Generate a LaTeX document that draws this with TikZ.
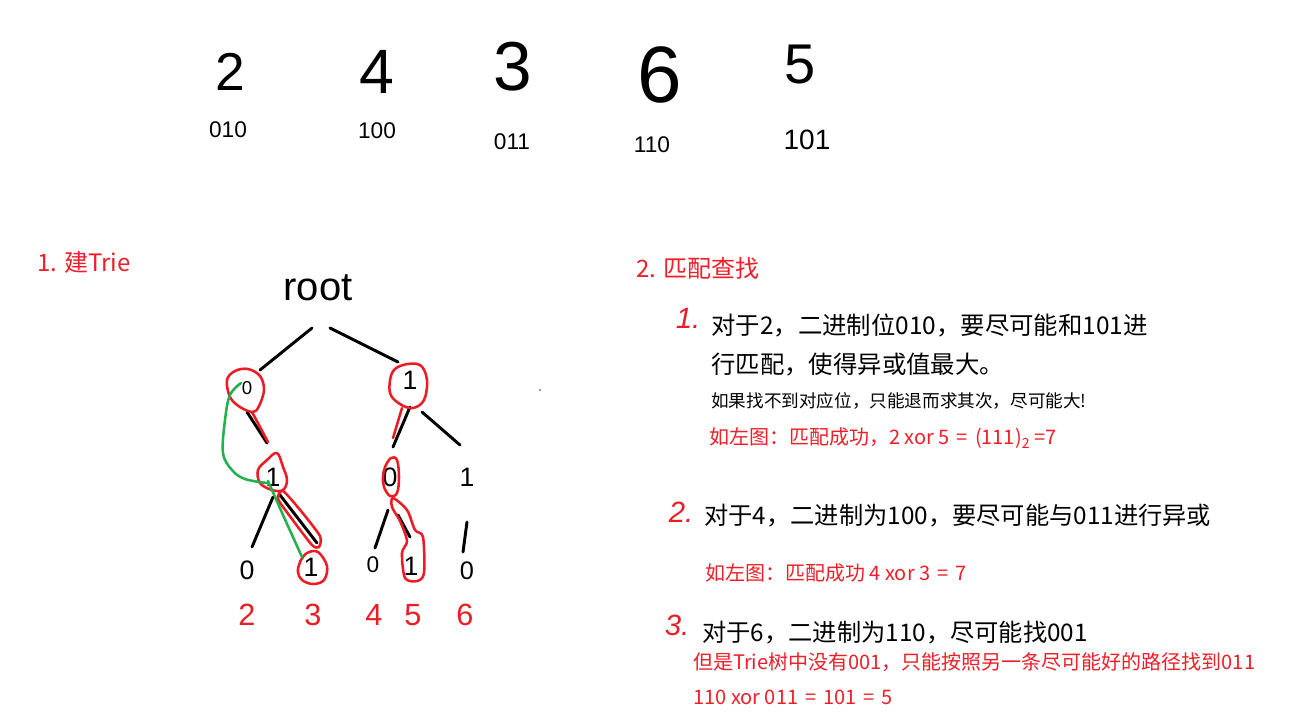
\documentclass[tikz,border=0pt]{standalone}
\usepackage{fontspec}
\setmainfont{Noto Sans CJK SC}
\newfontfamily\hand{Liberation Sans}
\definecolor{pred}{RGB}{237,28,36}
\definecolor{tred}{RGB}{240,30,40}
\definecolor{pgreen}{RGB}{34,177,76}
\newcommand{\wq}{\hspace{0.35em}=\hspace{0.35em}}
\begin{document}
\begin{tikzpicture}[x=0.75pt,y=-0.75pt,
  hw/.style={font=\hand\fontsize{#1}{#1}\selectfont, inner sep=0pt},
  hwr/.style={hw=#1, text=pred},
  cjk/.style={font=\fontsize{#1}{#1}\selectfont, inner sep=0pt, anchor=west},
  cjkr/.style={cjk=#1, text=tred},
  tedge/.style={line width=2.2pt, line cap=round},
  rloop/.style={draw=pred, line width=1.9pt, line cap=round, line join=round},
  gpath/.style={draw=pgreen, line width=1.9pt, line cap=round, line join=round}]
\useasboundingbox (0,0) rectangle (1301,715);
\fill[white] (0,0) rectangle (1301,715);

% top numbers
\node[hw=40] (t2) at (230,72) {2};
\node[hw=47] (t4) at (377,72) {4};
\node[hw=52] (t3) at (513,67) {3};
\node[hw=60] (t6) at (660,75) {6};
\node[hw=42] (t5) at (800,65) {5};
\node[hw=17] (b2) at (228,130) {010};
\node[hw=17] (b4) at (377,131) {100};
\node[hw=17] (b3) at (512,142) {011};
\node[hw=17] (b6) at (652,145) {110};
\node[hw=21] (b5) at (807,140) {101};

% titles
\node[cjkr=18] (title1) at (37,262) {1. 建Trie};
\node[cjkr=18] (title2) at (636,268) {2. 匹配查找};

% tree
\node[hw=30] (root) at (318,288) {root};
\node[hw=14] (l1a) at (247,388) {0};
\node[hw=20] (l1b) at (410,380) {1};
\node[hw=20] (l2a) at (273,477) {1};
\node[hw=20] (l2b) at (390,477) {0};
\node[hw=20] (l2c) at (467,477) {1};
\node[hw=20] (l3a) at (247,570) {0};
\node[hw=20] (l3b) at (311,567) {1};
\node[hw=17] (l3c) at (373,565) {0};
\node[hw=20] (l3d) at (411,566) {1};
\node[hw=19] (l3e) at (467,571) {0};

\node[hwr=23] (v2) at (247,615) {2};
\node[hwr=23] (v3) at (313,615) {3};
\node[hwr=23] (v4) at (374,615) {4};
\node[hwr=23] (v5) at (413,615) {5};
\node[hwr=23] (v6) at (465,615) {6};

% edge end points
\coordinate (e1a) at (312,328); \coordinate (e1b) at (260,370);
\coordinate (e2a) at (330,328); \coordinate (e2b) at (398,362);
\coordinate (e3a) at (247,412); \coordinate (e3b) at (267,443);
\coordinate (e4a) at (410,407); \coordinate (e4b) at (393,447);
\coordinate (e5a) at (422,412); \coordinate (e5b) at (460,445);
\coordinate (e6a) at (273,497); \coordinate (e6b) at (252,547);
\coordinate (e7a) at (280,495); \coordinate (e7b) at (317,543);
\coordinate (e8a) at (388,510); \coordinate (e8b) at (375,548);
\coordinate (e9a) at (398,515); \coordinate (e9b) at (410,537);
\coordinate (e10a) at (467,522); \coordinate (e10b) at (463,552);
\foreach \e in {1,...,10} {\draw[tedge] (e\e a) -- (e\e b);}

% red highlights
\draw[rloop] plot[smooth cycle, tension=0.6] coordinates {(227,380) (235,371) (248,369) (260,376) (264,390) (259,406) (253,412) (240,407) (230,397)};
\draw[rloop] (252,412) -- (268,442);
\draw[rloop] plot[smooth cycle, tension=0.6] coordinates {(392,373) (403,365) (420,365) (427,380) (424,400) (413,408) (400,404) (390,393)};
\draw[rloop] (402,408) -- (393,438);
\draw[rloop] plot[smooth cycle, tension=0.6] coordinates {(258,470) (267,460) (277,453) (283,467) (287,480) (283,490) (272,490) (260,483)};
\draw[rloop] plot[smooth cycle, tension=0.4] coordinates {(283,491) (301,511) (320,536) (319,547) (312,545) (292,519) (278,499)};
\draw[rloop] plot[smooth cycle, tension=0.6] coordinates {(300,562) (307,553) (318,552) (327,566) (324,580) (313,584) (302,580) (298,572)};
\draw[rloop] plot[smooth cycle, tension=0.6] coordinates {(385,467) (391,458) (397,460) (399,477) (397,493) (390,496) (384,487) (383,477)};
\draw[rloop] plot[smooth cycle, tension=0.5] coordinates {(393,498) (407,510) (415,530) (423,537) (424,573) (417,581) (405,578) (402,553) (407,541) (400,521) (392,507)};

% green path
\draw[gpath] plot[smooth, tension=0.6] coordinates {(241,383) (230,395) (225,420) (223,453) (232,470) (245,479) (267,483)};
\draw[gpath] (268,481) -- (283,515) -- (302,557);

% tiny dot
\fill[teal!70!black] (540,390) circle (0.9);

% right texts
\node[hwr=22, font=\hand\itshape\fontsize{22}{22}\selectfont] (m1) at (688,318) {1.};
\node[cjk=18.3] (s1a) at (711,325) {对于2，二进制位010，要尽可能和101进};
\node[cjk=18.3] (s1b) at (711,365) {行匹配，使得异或值最大。};
\node[cjk=13.2] (s1c) at (711,401) {如果找不到对应位，只能退而求其次，尽可能大!};
\node[cjkr=15] (s1d) at (709,438) {如左图：匹配成功，2 xor 5\wq(111)\textsubscript{2} =7};

\node[hwr=22, font=\hand\itshape\fontsize{22}{22}\selectfont] (m2) at (681,512) {2.};
\node[cjk=18.2] (s2a) at (704,516) {对于4，二进制为100，要尽可能与011进行异或};
\node[cjkr=15] (s2b) at (705,573) {如左图：匹配成功 4 xor 3\wq7};

\node[hwr=22, font=\hand\itshape\fontsize{22}{22}\selectfont] (m3) at (677,625) {3.};
\node[cjk=18.2] (s3a) at (702,633) {对于6，二进制为110，尽可能找001};
\node[cjkr=15] (s3b) at (693,662) {但是Trie树中没有001，只能按照另一条尽可能好的路径找到011};
\node[cjkr=15] (s3c) at (693,697) {110 xor 011\wq101\wq5};
\end{tikzpicture}
\end{document}
